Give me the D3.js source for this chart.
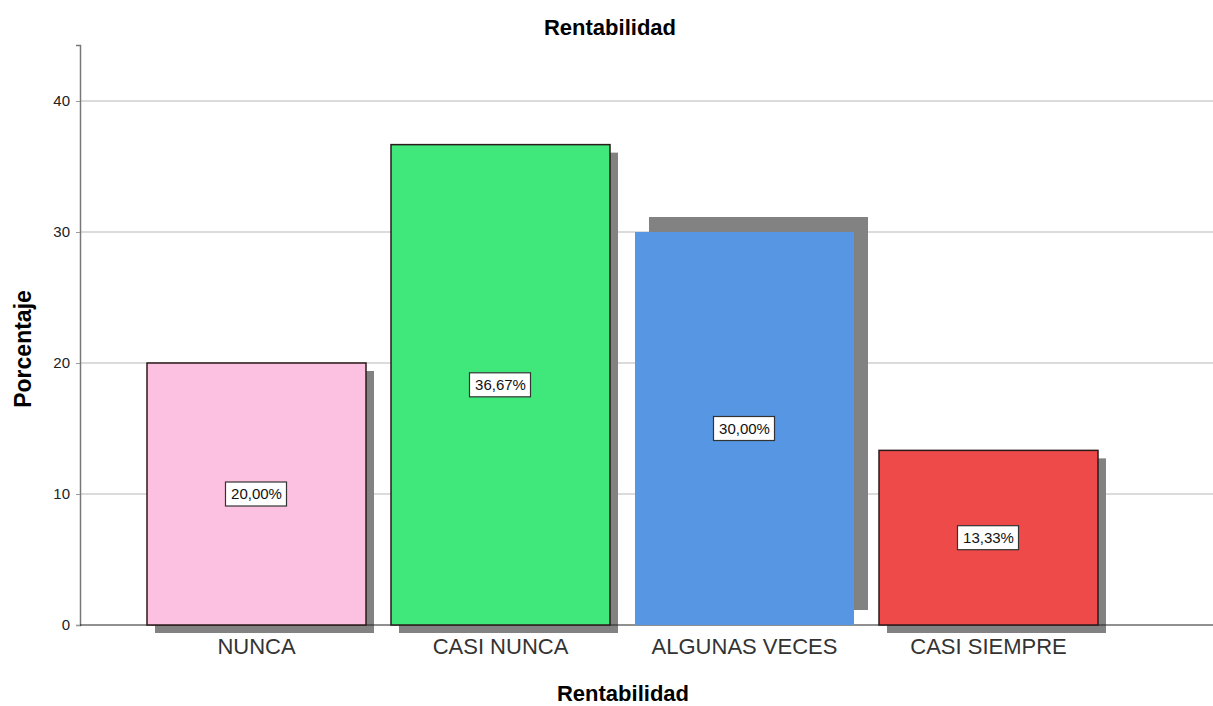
<!DOCTYPE html>
<html>
<head>
<meta charset="utf-8">
<script src="https://cdn.jsdelivr.net/npm/d3@7"></script>
<style>
  body { margin: 0; background: #fff; }
  svg { font-family: Arial, "Liberation Sans", sans-serif; }
</style>
</head>
<body>
<div id="chart"></div>
<script>
// chart data
const categories = ['NUNCA', 'CASI NUNCA', 'ALGUNAS VECES', 'CASI SIEMPRE'];
const values = [20.00, 36.67, 30.00, 13.33];
const labels = ['20,00%', '36,67%', '30,00%', '13,33%'];
const colors = ['#fcc0e0', '#40e87b', '#5696e2', '#ef4a4a'];
const yTicks = [0, 10, 20, 30, 40];

const width = 1213, height = 706;
const svg = d3.select('#chart').append('svg')
  .attr('width', width)
  .attr('height', height);

const x = d3.scaleBand()
  .domain(categories)
  .range([147, 1098])
  .paddingInner(25 / 244)
  .paddingOuter(0);

const y = d3.scaleLinear()
  .domain([0, 580 / 13.1])
  .range([625, 45]);

// gridlines
svg.append('g')
  .selectAll('line')
  .data(yTicks.filter(d => d > 0))
  .enter().append('line')
  .attr('x1', 80).attr('x2', width)
  .attr('y1', d => y(d)).attr('y2', d => y(d))
  .attr('stroke', '#cfcfcf')
  .attr('stroke-width', 1.5);

// y axis
const yAxis = svg.append('g')
  .attr('transform', 'translate(80,0)')
  .call(d3.axisLeft(y).tickValues(yTicks).tickSize(4).tickPadding(6));
yAxis.select('.domain').attr('stroke', '#777').attr('stroke-width', 1.5);
yAxis.selectAll('.tick line').attr('stroke', '#999');
yAxis.selectAll('.tick text').attr('font-size', 15).attr('fill', '#222')
  .attr('font-family', 'Arial, "Liberation Sans", sans-serif');

// shadows (third bar shadow offset upward, as in the source)
const shadowOffset = [[8, 8], [8, 8], [14, -15], [8, 8]];
svg.append('g')
  .selectAll('rect')
  .data(categories)
  .enter().append('rect')
  .attr('x', (d, i) => x(d) + shadowOffset[i][0])
  .attr('y', (d, i) => y(values[i]) + shadowOffset[i][1])
  .attr('width', x.bandwidth())
  .attr('height', (d, i) => y(0) - y(values[i]))
  .attr('fill', '#828282');

// x axis baseline
svg.append('line')
  .attr('x1', 80).attr('x2', width)
  .attr('y1', y(0)).attr('y2', y(0))
  .attr('stroke', '#222')
  .attr('stroke-width', 1);

// bars
svg.append('g')
  .selectAll('rect')
  .data(categories)
  .enter().append('rect')
  .attr('x', d => x(d))
  .attr('y', (d, i) => y(values[i]))
  .attr('width', x.bandwidth())
  .attr('height', (d, i) => y(0) - y(values[i]))
  .attr('fill', (d, i) => colors[i])
  .attr('stroke', (d, i) => i === 2 ? 'none' : '#2a1a1a')
  .attr('stroke-width', 1.5);

// value labels
const vl = svg.append('g')
  .selectAll('g')
  .data(categories)
  .enter().append('g')
  .attr('transform', (d, i) => `translate(${x(d) + x.bandwidth() / 2},${y(values[i] / 2)})`);
vl.append('rect')
  .attr('x', -31).attr('y', -12)
  .attr('width', 61).attr('height', 24)
  .attr('fill', '#fff')
  .attr('stroke', '#333')
  .attr('stroke-width', 1.2);
vl.append('text')
  .attr('text-anchor', 'middle')
  .attr('dy', '0.36em')
  .attr('font-size', 15)
  .attr('fill', '#111')
  .text((d, i) => labels[i]);

// category labels
const xAxis = svg.append('g')
  .attr('transform', `translate(0,${y(0)})`)
  .call(d3.axisBottom(x).tickSize(0).tickPadding(13));
xAxis.select('.domain').remove();
xAxis.selectAll('.tick text').attr('font-size', 22).attr('fill', '#333')
  .attr('font-family', 'Arial, "Liberation Sans", sans-serif');

// titles
svg.append('text')
  .attr('x', 610).attr('y', 35)
  .attr('text-anchor', 'middle')
  .attr('font-size', 22).attr('font-weight', 'bold')
  .text('Rentabilidad');

svg.append('text')
  .attr('x', 623).attr('y', 701)
  .attr('text-anchor', 'middle')
  .attr('font-size', 22).attr('font-weight', 'bold')
  .text('Rentabilidad');

svg.append('text')
  .attr('transform', 'rotate(-90)')
  .attr('x', -349).attr('y', 31)
  .attr('text-anchor', 'middle')
  .attr('font-size', 23).attr('font-weight', 'bold')
  .text('Porcentaje');
</script>
</body>
</html>
